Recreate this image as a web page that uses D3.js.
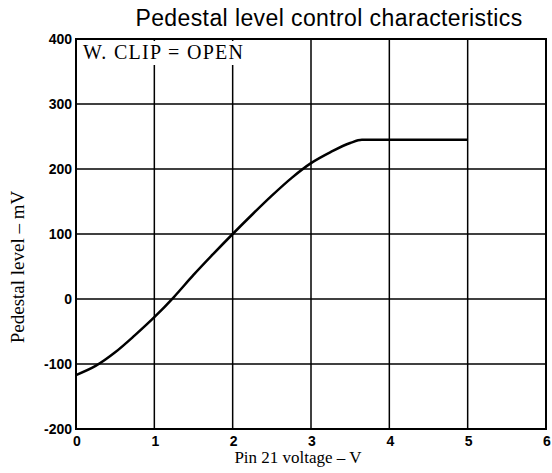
<!DOCTYPE html>
<html>
<head>
<meta charset="utf-8">
<script src="https://cdn.jsdelivr.net/npm/d3@7"></script>
<style>
    body { margin: 0; background: #fff; }
    svg { display: block; }
</style>
</head>
<body>
<div id="chart"></div>
<script>
// Curve
const voltage = [0, 0.25, 0.5, 0.75, 1.0, 1.25, 1.5, 1.75, 2.0, 2.25, 2.5, 2.75, 3.0, 3.25, 3.5, 3.65, 4.0, 4.5, 5.0];
const pedestal = [-117, -103, -82, -56, -28, 3, 37, 69, 100, 130, 159, 186, 209, 226, 240, 245, 245, 245, 245];

const xTicks = [0, 1, 2, 3, 4, 5, 6];
const yTicks = [-200, -100, 0, 100, 200, 300, 400];

const width = 552, height = 473;
const margin = { top: 39, right: 6, bottom: 44, left: 76 };

const svg = d3.select('#chart').append('svg')
    .attr('width', width)
    .attr('height', height);

const x = d3.scaleLinear().domain([0, 6]).range([margin.left, width - margin.right]);
const y = d3.scaleLinear().domain([-200, 400]).range([height - margin.bottom, margin.top]);

// grid
svg.append('g').selectAll('line')
    .data(xTicks)
    .join('line')
    .attr('x1', d => x(d)).attr('x2', d => x(d))
    .attr('y1', y(400)).attr('y2', y(-200))
    .attr('stroke', '#000')
    .attr('stroke-width', 1.5);

svg.append('g').selectAll('line')
    .data(yTicks)
    .join('line')
    .attr('x1', x(0)).attr('x2', x(6))
    .attr('y1', d => y(d)).attr('y2', d => y(d))
    .attr('stroke', '#000')
    .attr('stroke-width', 1.5);

// white box behind the note, gridlines stop under it
svg.append('rect')
    .attr('x', x(0) + 2).attr('y', y(400) + 2)
    .attr('width', 168).attr('height', 24)
    .attr('fill', '#fff');

// frame
svg.append('rect')
    .attr('x', x(0)).attr('y', y(400))
    .attr('width', x(6) - x(0)).attr('height', y(-200) - y(400))
    .attr('fill', 'none')
    .attr('stroke', '#000')
    .attr('stroke-width', 2);

// tick labels
svg.append('g').selectAll('text')
    .data(yTicks)
    .join('text')
    .attr('x', x(0) - 4)
    .attr('y', d => y(d) + 5)
    .attr('text-anchor', 'end')
    .style('font-family', 'Liberation Sans, Arial, sans-serif')
    .style('font-weight', 'bold')
    .style('font-size', '14px')
    .text(d => d);

svg.append('g').selectAll('text')
    .data(xTicks)
    .join('text')
    .attr('x', d => x(d) + 1)
    .attr('y', y(-200) + 17)
    .attr('text-anchor', 'middle')
    .style('font-family', 'Liberation Sans, Arial, sans-serif')
    .style('font-weight', 'bold')
    .style('font-size', '14px')
    .text(d => d);

// curve
const line = d3.line()
    .x((d, i) => x(voltage[i]))
    .y(d => y(d))
    .curve(d3.curveMonotoneX);

svg.append('path')
    .datum(pedestal)
    .attr('d', line)
    .attr('fill', 'none')
    .attr('stroke', '#000')
    .attr('stroke-width', 2.5);

// titles
svg.append('text')
    .attr('x', 329)
    .attr('y', 26)
    .attr('text-anchor', 'middle')
    .style('font-family', 'Liberation Sans, Arial, sans-serif')
    .style('font-size', '23px')
    .style('letter-spacing', '0.4px')
    .text('Pedestal level control characteristics');

svg.append('text')
    .attr('x', 83)
    .attr('y', 59)
    .style('font-family', 'Liberation Serif, Times New Roman, serif')
    .style('font-size', '20px')
    .style('letter-spacing', '1.3px')
    .text('W. CLIP = OPEN');

svg.append('text')
    .attr('x', 298)
    .attr('y', 463)
    .attr('text-anchor', 'middle')
    .style('font-family', 'Liberation Serif, Times New Roman, serif')
    .style('font-size', '17px')
    .text('Pin 21 voltage – V');

svg.append('text')
    .attr('transform', 'translate(24, 267) rotate(-90)')
    .attr('text-anchor', 'middle')
    .style('font-family', 'Liberation Serif, Times New Roman, serif')
    .style('font-size', '19px')
    .text('Pedestal level – mV');
</script>
</body>
</html>
